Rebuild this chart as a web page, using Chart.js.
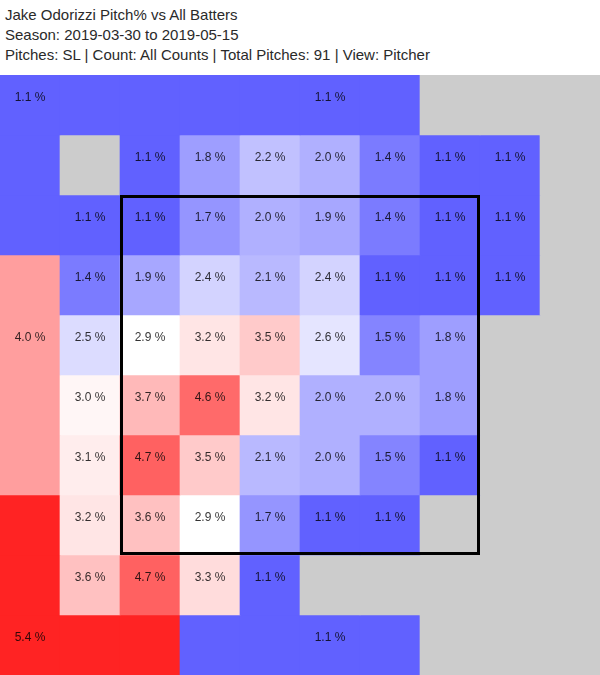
<!DOCTYPE html>
<html>
<head>
<meta charset="utf-8">
<script src="https://cdn.jsdelivr.net/npm/chart.js@4/dist/chart.umd.min.js"></script>
<style>
  body { margin: 0; background: #fff; }
  #title {
    position: absolute; left: 5px; top: 5px;
    font: 15px "Liberation Sans", Arial, sans-serif;
    line-height: 20px; color: #2a2a2a;
  }
  #wrap { position: absolute; left: 0; top: 75px; width: 600px; height: 600px; }
</style>
</head>
<body>
<div id="title">
  Jake Odorizzi Pitch% vs All Batters<br>
  Season: 2019-03-30 to 2019-05-15<br>
  Pitches: SL | Count: All Counts | Total Pitches: 91 | View: Pitcher
</div>
<div id="wrap"><canvas id="zoneChart"></canvas></div>
<script>
// --- Data ---
// columns of the 10x10 grid (left to right)
const gridCols = ["0", "1", "2", "3", "4", "5", "6", "7", "8", "9"];

// pitch% in the inner 8x8 cells (grid rows 1-8, cols 1-8), null = no pitches
const innerPct = [
  [null, 1.1, 1.8, 2.2, 2.0, 1.4, 1.1, 1.1],
  [1.1, 1.1, 1.7, 2.0, 1.9, 1.4, 1.1, 1.1],
  [1.4, 1.9, 2.4, 2.1, 2.4, 1.1, 1.1, 1.1],
  [2.5, 2.9, 3.2, 3.5, 2.6, 1.5, 1.8, null],
  [3.0, 3.7, 4.6, 3.2, 2.0, 2.0, 1.8, null],
  [3.1, 4.7, 3.5, 2.1, 2.0, 1.5, 1.1, null],
  [3.2, 3.6, 2.9, 1.7, 1.1, 1.1, null, null],
  [3.6, 4.7, 3.3, 1.1, null, null, null, null]
];

// outer (chase) zones
const outerKeys = ["A", "B", "L", "C", "D"];
const outerPct = [1.1, 1.1, 4.0, 5.4, 1.1];
const outerLabelCell = [[0, 0], [0, 5], [4, 0], [9, 0], [9, 5]]; // [row, col]

// which zone each grid cell belongs to: '#' inner, '.' empty
const zoneMap = [
  "AAAABBB...",
  "A.#######.",
  "A########.",
  "L########.",
  "L#######..",
  "L#######..",
  "L#######..",
  "C######...",
  "C####.....",
  "CCCDDDD..."
];

// strike zone in grid units: [left, right, top, bottom]
const strikeZone = [2, 8, 2, 8];

// --- Helpers ---
function cellPct(r, c) {
  const k = zoneMap[r][c];
  if (k === "#") return innerPct[r - 1][c - 1];
  if (k === ".") return null;
  return outerPct[outerKeys.indexOf(k)];
}

// blue - white - red scale, white at 2.9
function pctColor(v) {
  if (v === null) return "#cccccc";
  const mid = 2.9;
  if (v <= mid) {
    const c = Math.round(255 * Math.max(v, 0) / mid);
    return `rgb(${c},${c},255)`;
  }
  const c = Math.round(255 * Math.max(2 * mid - v, 0) / mid);
  return `rgb(255,${c},${c})`;
}

// --- Build datasets (one floating-bar row per grid row) ---
const rowSets = zoneMap.map((line, r) => ({
  type: "bar",
  data: gridCols.map(() => [r, r + 1]),
  backgroundColor: gridCols.map((_, c) => pctColor(cellPct(r, c))),
  borderWidth: 0,
  grouped: false,
  barPercentage: 1,
  categoryPercentage: 1,
  order: 2
}));

const inset = 0.025;
const [zl, zr, zt, zb] = strikeZone;
const zoneLine = {
  type: "line",
  xAxisID: "xz",
  data: [
    { x: zl + inset, y: zt + inset },
    { x: zr - inset, y: zt + inset },
    { x: zr - inset, y: zb - inset },
    { x: zl + inset, y: zb - inset },
    { x: zl + inset, y: zt + inset },
    { x: zr - inset, y: zt + inset }
  ],
  borderColor: "#000",
  borderWidth: 3,
  pointRadius: 0,
  tension: 0,
  fill: false,
  order: 1
};

// labels: every inner cell with data + one per outer zone
const cellLabels = [];
zoneMap.forEach((line, r) => {
  for (let c = 0; c < line.length; c++) {
    if (line[c] === "#" && cellPct(r, c) !== null) cellLabels.push([r, c, cellPct(r, c)]);
  }
});
outerLabelCell.forEach((rc, i) => cellLabels.push([rc[0], rc[1], outerPct[i]]));

const labelPlugin = {
  id: "cellLabels",
  afterDatasetsDraw(chart) {
    const { ctx, scales } = chart;
    ctx.save();
    ctx.font = '12px "Liberation Sans", Arial, sans-serif';
    ctx.fillStyle = "rgba(0,0,0,0.8)";
    ctx.textAlign = "center";
    ctx.textBaseline = "alphabetic";
    cellLabels.forEach(([r, c, v]) => {
      const x = scales.xz.getPixelForValue(c + 0.5);
      const y = scales.y.getPixelForValue(r + 0.5);
      ctx.fillText(v.toFixed(1) + " %", x, y - 4.5);
    });
    ctx.restore();
  }
};

// --- Chart ---
new Chart(document.getElementById("zoneChart"), {
  type: "bar",
  data: { labels: gridCols, datasets: [zoneLine, ...rowSets] },
  options: {
    responsive: true,
    maintainAspectRatio: false,
    animation: false,
    layout: { padding: 0 },
    plugins: { legend: { display: false }, tooltip: { enabled: false }, title: { display: false } },
    scales: {
      x: { type: "category", display: false, offset: true },
      xz: { type: "linear", position: "bottom", display: false, min: 0, max: 10, offset: false },
      y: { type: "linear", display: false, min: 0, max: 10, reverse: true, offset: false }
    }
  },
  plugins: [labelPlugin]
});
</script>
</body>
</html>
